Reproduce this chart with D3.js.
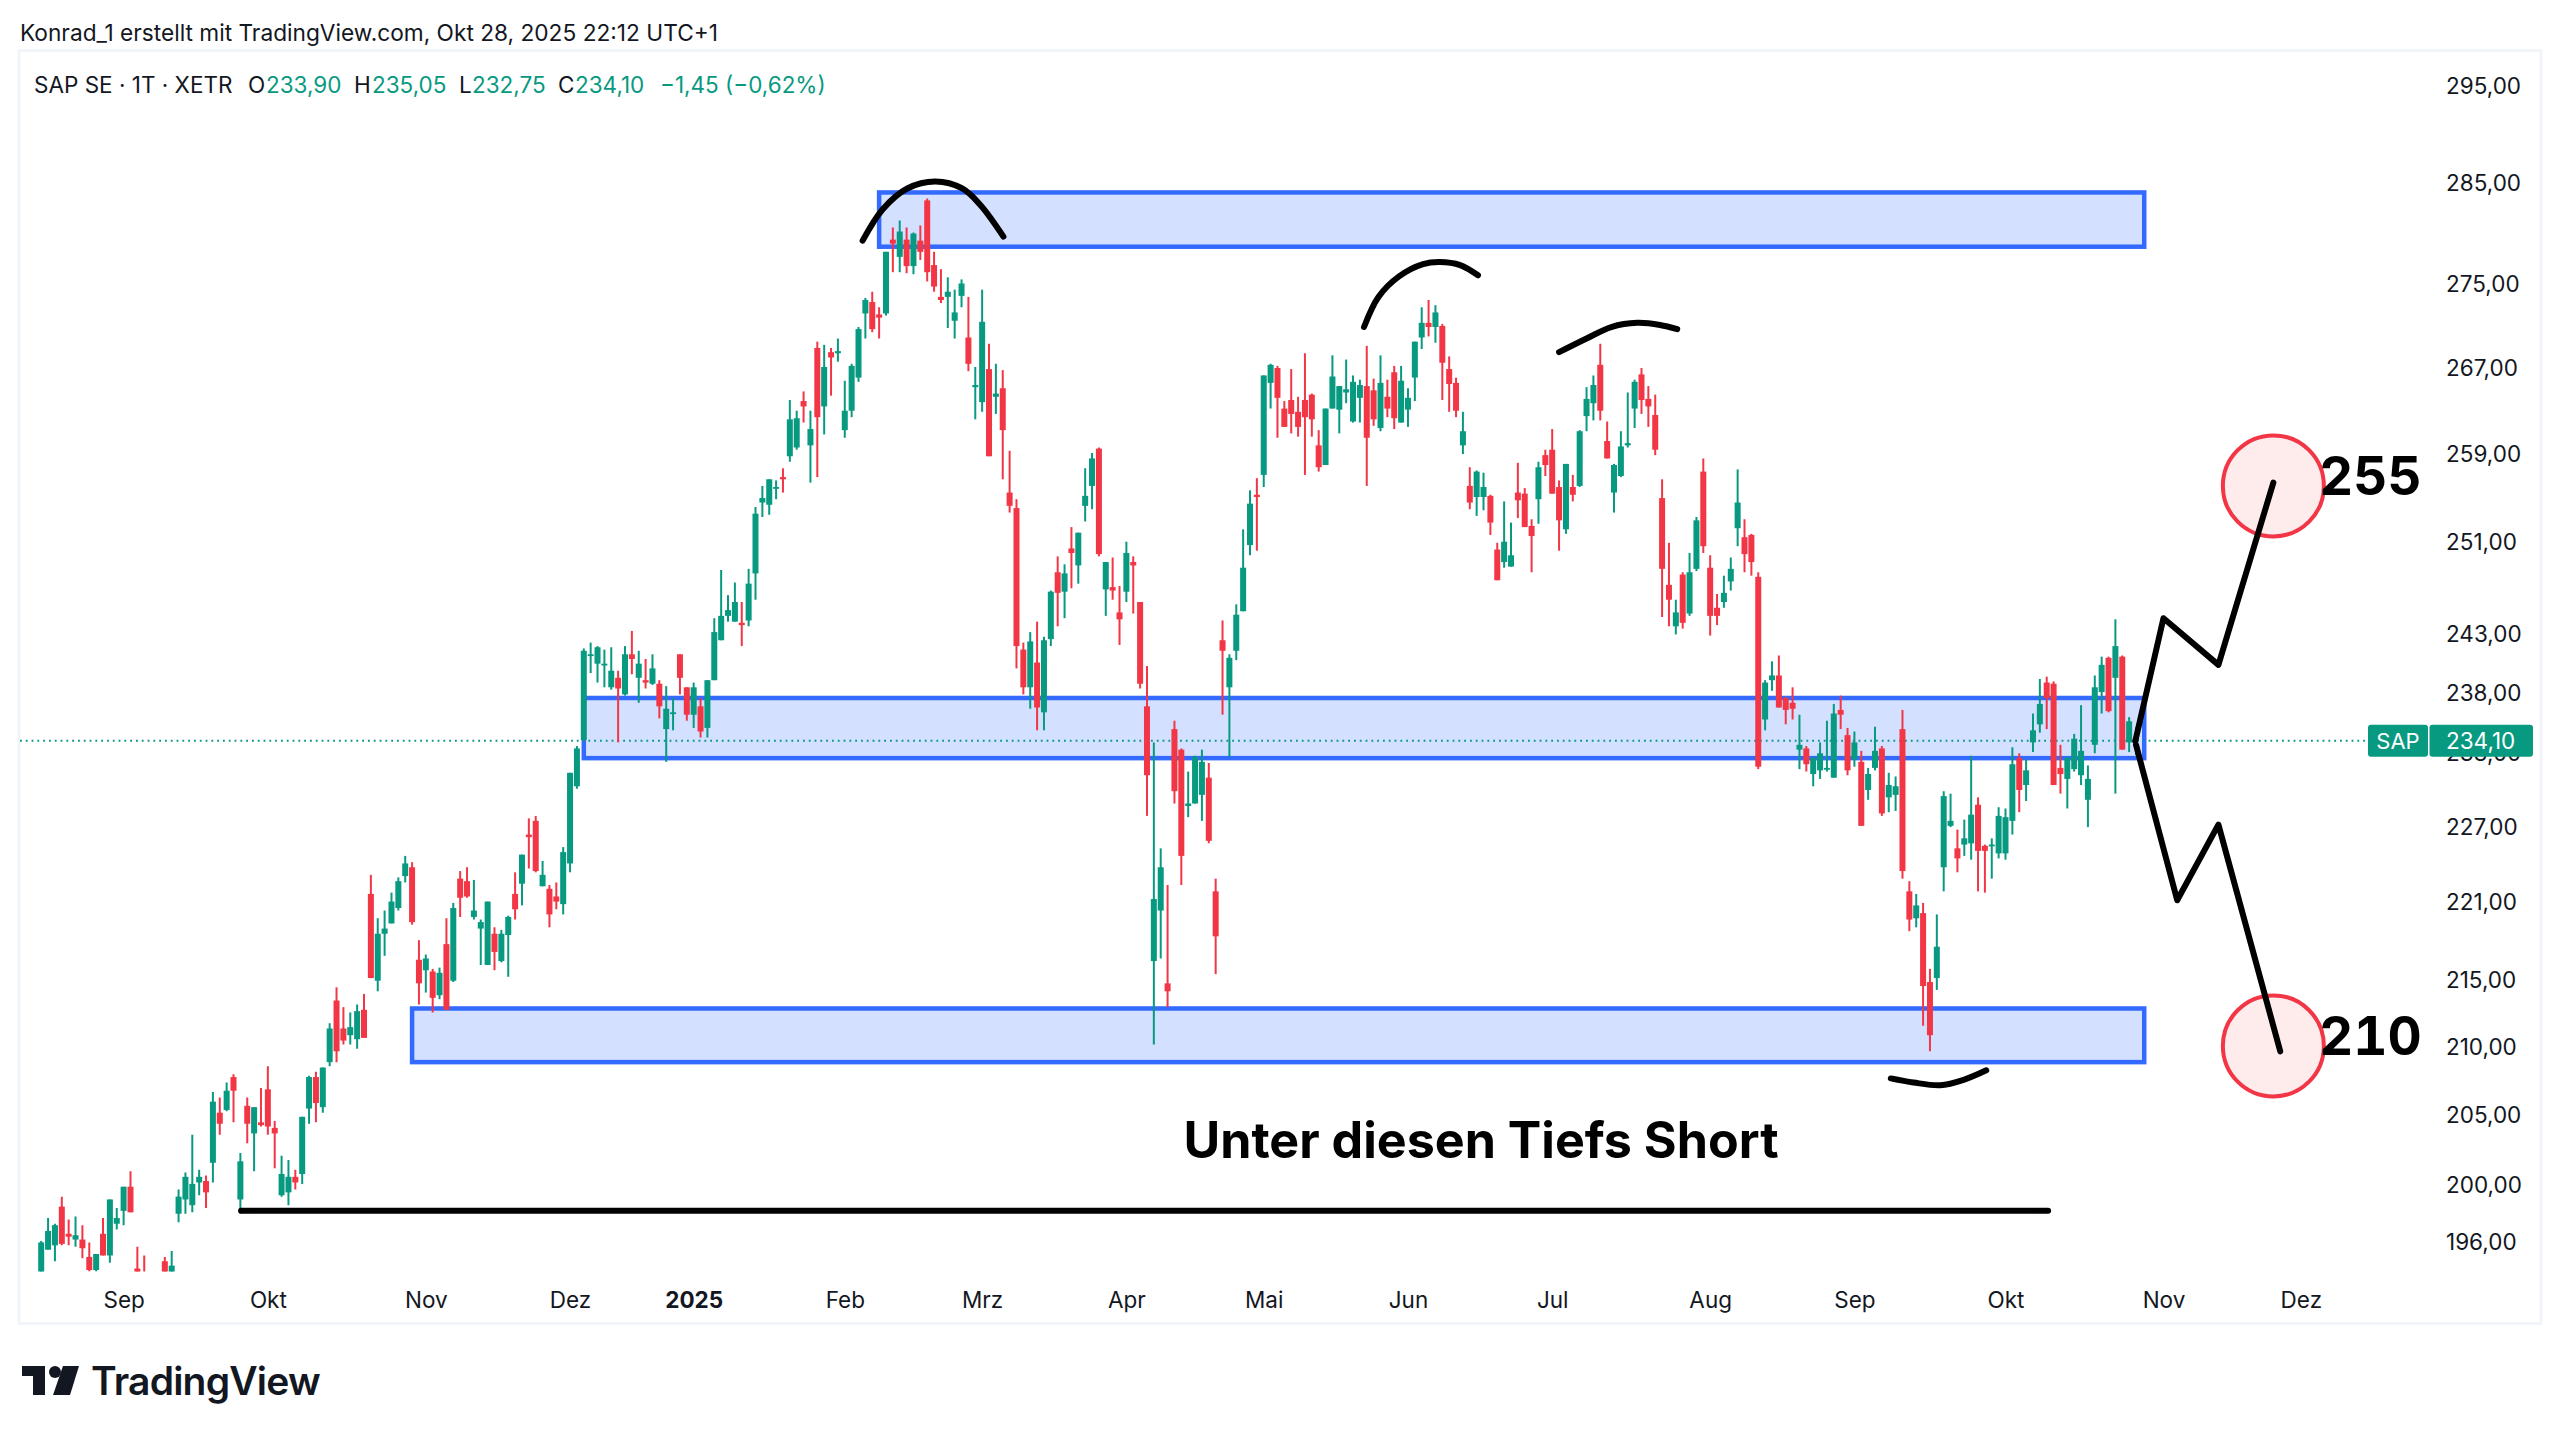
<!DOCTYPE html>
<html lang="de">
<head>
<meta charset="utf-8">
<title>SAP SE</title>
<script src="https://cdnjs.cloudflare.com/ajax/libs/d3/7.9.0/d3.min.js"></script>
<style>
    html, body { margin: 0; background: #fff; }
    svg { display: block; font-family: Inter, "Noto Sans", sans-serif; }
</style>
</head>
<body>
<svg id="chart" width="2560" height="1438"></svg>
<script>
// Tageskerzen (Bar 1 = Ende August 2024).
const opens = [
    193.2,195.4,195.7,198.4,196.5,196.1,196.1,194.9,194.0,196.5,
    195.0,197.2,198.1,199.8,194.1,193.6,192.5,192.0,194.6,193.7,
    197.9,198.9,198.5,200.1,200.2,201.5,205.1,205.3,207.7,198.9,
    205.6,203.6,204.4,206.8,204.0,199.2,199.4,200.5,200.7,205.4,
    207.7,205.5,208.8,213.4,211.3,210.8,210.5,212.7,221.6,214.9,
    218.5,219.3,220.5,223.0,223.7,216.5,215.7,215.6,213.8,217.7,
    214.9,222.8,222.6,219.8,218.9,216.1,218.5,216.4,218.4,221.6,
    222.4,226.3,227.4,222.2,222.0,221.4,220.8,224.0,230.2,234.0,
    241.1,240.4,240.3,238.4,239.2,237.8,241.2,239.2,239.0,238.7,
    238.7,234.9,236.2,241.2,238.4,236.1,236.8,235.0,239.0,242.4,
    244.5,244.0,243.9,244.1,248.2,254.5,254.3,255.8,256.8,258.7,
    259.5,263.8,259.7,268.8,263.3,268.4,268.3,261.1,262.9,266.0,
    272.1,273.2,272.0,272.1,279.3,277.6,279.3,276.7,279.2,283.2,
    276.8,273.7,273.7,271.4,273.8,269.8,265.1,263.7,266.8,264.2,
    265.0,255.4,254.0,241.6,238.4,240.5,236.3,242.5,248.3,246.6,
    250.4,248.9,254.2,256.0,259.4,246.8,247.0,244.8,246.6,249.2,
    245.7,236.8,216.4,220.3,214.7,234.9,233.2,228.6,228.8,229.5,
    230.9,221.8,242.4,238.4,241.5,244.9,250.7,255.2,257.0,265.5,
    266.9,263.1,263.9,262.8,263.9,264.4,259.7,257.9,263.1,263.0,
    264.6,261.9,264.1,265.2,264.8,261.3,264.2,266.5,261.8,263.0,
    266.0,269.8,271.2,270.8,270.9,266.8,265.5,259.7,256.0,255.0,
    255.0,255.1,250.3,249.2,248.8,255.4,255.3,252.4,254.8,258.8,
    259.3,255.9,252.1,255.9,256.0,262.4,263.6,267.2,260.1,255.4,
    256.9,259.7,263.1,266.3,264.0,262.5,254.9,247.2,243.6,248.1,
    244.7,248.6,257.3,248.7,245.2,245.7,247.5,252.2,251.4,251.6,
    247.9,235.7,239.0,239.4,237.5,237.1,233.2,233.3,231.2,231.5,
    231.6,230.9,236.5,234.4,232.4,232.2,229.9,231.7,233.3,229.3,
    229.5,234.9,221.8,219.7,220.1,214.8,215.1,223.7,227.0,225.2,
    225.5,225.6,228.7,225.4,225.4,224.8,224.8,227.4,232.5,230.3,
    233.8,235.3,238.8,238.7,231.7,230.8,231.6,231.1,229.1,233.6,
    238.0,240.9,239.2,241.0,233.8,233.90
];
const highs = [
    196.0,197.6,197.2,199.1,197.5,197.7,197.1,195.9,195.1,197.6,
    198.9,198.3,199.8,200.9,195.6,195.0,193.3,193.0,194.9,195.3,
    199.6,200.8,203.5,201.0,200.6,206.6,206.2,207.3,207.9,202.2,
    206.2,205.5,206.9,208.5,204.5,202.0,201.7,201.0,204.8,207.8,
    208.1,208.4,211.7,214.4,212.9,212.5,213.1,213.9,223.1,219.7,
    220.3,221.7,222.9,224.6,224.1,218.0,216.9,215.8,215.9,219.7,
    220.9,223.4,223.7,222.7,219.6,221.0,219.0,218.8,219.9,223.3,
    224.7,227.6,227.8,224.2,222.3,222.5,225.3,231.3,233.5,241.7,
    242.2,241.9,241.6,241.8,239.8,241.9,243.2,241.5,240.8,241.2,
    239.0,238.5,237.5,241.2,238.4,238.8,237.5,239.0,244.3,248.5,
    246.3,247.4,245.7,248.6,254.1,256.0,256.6,256.5,257.6,263.9,
    262.9,264.7,262.9,269.4,269.1,268.8,269.7,265.7,267.3,270.8,
    273.6,274.2,272.7,278.1,280.5,281.2,280.5,280.0,280.7,283.4,
    278.1,276.4,275.6,274.4,275.4,273.7,267.0,274.4,269.2,267.3,
    266.7,259.2,254.8,242.2,243.1,244.0,242.7,246.7,249.7,249.0,
    252.3,251.8,257.6,259.0,259.5,249.2,249.6,247.1,251.0,249.7,
    245.7,240.2,233.8,225.2,222.3,235.6,233.3,231.4,232.7,233.2,
    232.1,222.8,244.1,241.2,245.5,252.1,255.6,256.7,266.2,267.3,
    267.1,263.8,266.8,264.2,268.3,264.5,261.1,263.1,268.1,265.2,
    267.7,266.2,265.8,269.0,265.9,268.1,265.8,267.1,267.1,265.0,
    269.4,272.7,273.4,272.9,271.1,268.0,266.0,262.8,257.7,257.4,
    257.2,255.2,250.9,254.6,252.7,258.1,255.8,253.0,258.2,259.3,
    261.2,256.5,258.0,257.0,261.1,265.1,266.2,269.2,261.9,258.0,
    261.0,264.6,265.8,266.9,265.2,264.4,256.6,250.9,245.9,248.3,
    250.0,253.2,258.5,249.8,246.4,248.0,249.6,257.5,253.0,251.7,
    248.3,239.0,240.6,241.1,237.6,238.4,236.1,233.5,232.6,233.8,
    235.6,237.0,237.7,235.0,234.7,233.1,231.7,235.1,233.5,231.3,
    231.0,236.5,222.6,221.6,220.9,215.8,220.0,229.8,229.6,226.7,
    227.5,232.7,229.3,225.5,226.0,228.5,228.4,233.4,232.9,232.4,
    236.2,239.1,239.3,238.9,233.6,232.6,234.5,236.9,231.9,239.4,
    241.0,241.0,244.2,241.1,235.9,235.05
];
const lows = [
    192.9,195.4,194.6,195.7,195.7,195.6,194.8,193.9,193.9,195.0,
    194.5,196.8,197.1,198.0,193.0,192.8,191.5,191.0,193.0,193.5,
    197.3,197.9,198.0,199.2,198.3,200.1,203.5,205.2,204.4,197.9,
    202.9,200.9,204.1,203.5,201.1,199.1,198.5,199.6,200.0,204.3,
    204.4,205.1,208.5,208.8,210.1,210.1,209.8,210.6,215.1,214.1,
    216.8,219.3,220.3,222.5,219.2,213.1,214.0,212.5,213.5,212.7,
    214.8,219.8,221.3,219.6,216.1,216.1,215.7,216.3,215.2,219.6,
    220.7,223.6,223.3,222.2,219.0,220.4,220.0,223.3,230.0,234.0,
    239.6,238.8,238.4,238.2,233.8,237.7,239.5,237.1,238.3,238.6,
    235.8,232.2,234.8,237.8,235.6,235.0,234.2,234.2,239.0,242.4,
    244.0,244.0,241.9,243.6,245.9,253.2,253.4,254.8,255.4,258.2,
    259.3,261.8,256.3,256.8,260.7,264.3,267.5,260.4,262.3,265.6,
    269.7,270.3,269.7,271.9,276.1,276.1,276.0,275.9,277.3,275.2,
    274.2,273.1,270.7,269.7,272.7,266.6,262.1,262.8,258.7,262.6,
    256.6,253.6,240.0,237.8,236.6,234.8,234.8,241.9,243.6,244.3,
    246.9,247.3,252.8,253.9,249.7,244.5,245.9,242.0,245.7,244.7,
    238.3,227.8,210.1,216.6,212.9,228.8,222.3,227.7,228.8,227.4,
    225.6,215.4,236.1,232.6,240.7,244.9,249.8,250.2,255.9,263.1,
    260.4,261.4,260.8,260.5,257.0,260.5,257.3,257.9,263.1,260.8,
    263.6,261.8,261.8,256.0,261.5,261.0,262.3,261.2,261.8,261.4,
    263.8,268.7,269.9,269.3,263.9,262.8,262.3,258.9,253.9,253.3,
    253.8,251.6,247.6,248.7,248.8,253.1,252.3,248.3,252.6,256.9,
    255.3,250.2,251.7,254.6,255.9,261.0,262.0,262.0,258.5,253.6,
    256.8,259.5,261.3,262.6,261.4,258.8,244.4,243.6,242.9,243.4,
    244.5,248.4,250.0,242.8,243.7,245.2,246.7,250.6,248.3,248.0,
    231.6,234.8,238.1,236.7,235.3,235.7,231.6,231.4,230.2,230.8,
    231.4,230.9,234.9,231.1,231.8,227.0,229.1,231.5,227.8,228.1,
    228.2,222.8,218.7,219.0,211.5,209.6,214.2,221.8,226.9,223.3,
    224.6,224.3,221.8,221.7,222.8,224.4,224.3,226.3,228.1,229.0,
    233.0,234.6,234.9,230.3,229.6,228.4,231.4,230.3,226.9,232.9,
    236.2,236.3,229.6,233.2,233.0,232.75
];
const closes = [
    195.9,196.7,197.1,195.8,196.3,196.4,195.5,194.0,195.1,195.0,
    198.9,197.6,199.8,198.0,193.4,193.0,192.0,192.5,193.4,194.3,
    199.1,200.5,200.0,200.5,199.4,205.9,204.3,206.7,206.7,201.6,
    204.3,205.5,204.2,204.1,203.6,200.7,200.5,200.1,204.8,207.7,
    205.8,208.4,211.3,209.6,210.4,211.4,212.6,210.6,215.1,218.5,
    218.9,221.0,222.6,224.0,219.4,214.7,216.6,213.6,215.5,212.7,
    220.5,221.3,221.4,220.3,219.4,221.0,217.1,218.5,219.8,220.4,
    224.7,226.1,223.4,223.1,220.0,221.0,224.9,231.3,233.3,241.5,
    241.2,241.8,240.4,239.8,238.3,241.2,240.8,240.4,238.8,240.0,
    236.8,236.6,236.3,239.2,236.1,238.4,234.7,239.0,243.1,244.5,
    245.0,245.7,243.7,247.3,253.5,254.9,256.6,255.9,256.6,262.1,
    262.2,263.3,261.2,262.3,267.0,267.9,268.5,262.9,267.1,270.6,
    273.4,270.6,271.7,278.1,278.9,280.1,276.7,279.9,278.1,276.1,
    274.7,273.4,274.2,272.2,275.0,267.3,265.3,271.3,258.7,264.5,
    261.1,254.2,241.9,238.4,242.3,236.7,242.4,246.6,246.5,248.2,
    250.0,251.8,255.1,258.5,249.9,249.2,246.7,244.2,250.0,248.9,
    238.7,231.1,221.2,223.7,214.1,229.8,224.6,228.8,232.6,232.2,
    225.8,218.3,241.5,240.9,244.6,248.7,254.4,255.0,266.2,267.2,
    264.1,261.4,262.6,261.4,262.3,262.1,257.7,263.1,266.1,265.2,
    264.9,265.6,265.3,260.4,262.1,265.5,263.1,262.2,265.7,264.1,
    269.4,271.2,270.8,272.2,267.4,265.4,262.9,261.0,254.5,257.3,
    255.9,252.7,247.6,251.0,249.8,254.7,252.3,251.5,257.7,257.9,
    255.3,252.9,258.0,255.2,261.0,264.0,265.3,262.9,258.5,257.9,
    259.6,259.9,265.6,263.9,263.3,259.3,248.6,245.9,244.8,243.9,
    248.3,252.9,250.6,244.5,244.5,246.5,248.6,254.5,249.9,249.2,
    231.8,238.8,239.4,236.7,236.5,236.6,233.6,232.0,232.5,232.9,
    231.7,236.2,236.1,231.5,233.8,227.0,231.2,233.1,228.0,230.3,
    230.2,223.4,219.6,220.7,214.5,210.8,217.5,229.4,227.4,224.4,
    226.0,227.9,225.0,225.0,225.5,227.8,227.7,232.0,229.9,231.5,
    234.8,237.0,237.5,230.3,231.2,232.5,234.1,233.1,230.8,238.4,
    240.3,236.4,241.9,233.2,235.55,234.10
];

// Preisachse (logarithmisch) und Monatsachse; die Monate laufen in der Bar-Nummerierung weiter.
const priceTicks = [295, 285, 275, 267, 259, 251, 243, 238, 233, 227, 221, 215, 210, 205, 200, 196];
const monthLabels = ["Sep", "Okt", "Nov", "Dez", "2025", "Feb", "Mrz", "Apr", "Mai", "Jun", "Jul", "Aug", "Sep", "Okt", "Nov", "Dez"];
const monthBars = [12, 33, 56, 77, 95, 117, 137, 158, 178, 199, 220, 243, 264, 286, 309, 329];

// Gezeichnete Zonen: von Bar, bis Bar, Preis oben, Preis unten.
const zoneStarts = [122, 79, 54];
const zoneEnd = 306.2;
const zoneTops = [284.0, 237.5, 212.8];
const zoneBottoms = [278.6, 232.5, 208.8];

// Handgezeichnete Bögen und Szenarien als [Bar, Preis].
const arcTop = [[119.6, 279.2], [122.5, 282.3], [126.1, 284.4], [130.2, 285.1], [134.1, 284.4], [136.8, 282.7], [140.1, 279.6]];
const arcJune = [[192.6, 270.8], [194.7, 273.7], [197.7, 275.7], [201.2, 276.9], [203.6, 277.1], [206.6, 276.8], [209.2, 275.8]];
const arcJuly = [[221.0, 268.4], [225.0, 269.7], [228.6, 270.8], [232.4, 271.2], [235.7, 271.0], [238.2, 270.6]];
const arcLow = [[269.3, 207.6], [272.6, 207.3], [276.5, 207.1], [279.9, 207.5], [283.2, 208.2]];
const supportLine = [[29.1, 198.1], [292.2, 198.1]];
const pathUp = [[304.9, 233.9], [309, 244.3], [317, 240.3], [325, 256.3]];
const pathDown = [[305, 233.6], [311, 221.1], [317, 227.1], [326, 209.6]];

// Kursziele: Bar, Preis, Beschriftung.
const targetBars = [325, 325];
const targetPrices = [256, 210];
const targetLabels = ["255", "210"];

const lastPrice = "234,10";

const GREEN = "#089981";
const RED = "#f23645";
const BLUE = "#2962ff";
const TEXT = "#131722";

const svg = d3.select("#chart");

const x = d3.scaleLinear().domain([0, opens.length - 1]).range([41.2, 2136]);
const y = d3.scaleLog().domain([196, 295]).range([1241, 85]);

// Rahmen des Charts.
svg.append("rect")
    .attr("x", 19).attr("y", 50.5)
    .attr("width", 2522).attr("height", 1273)
    .attr("fill", "none")
    .attr("stroke", "#f0f3fa")
    .attr("stroke-width", 2.5);

svg.append("clipPath").attr("id", "pane")
    .append("rect")
    .attr("x", 20).attr("y", 52)
    .attr("width", 2420).attr("height", 1219.5);

const pane = svg.append("g");

// Zonen liegen unter den Kerzen.
pane.selectAll(".zone")
    .data(zoneStarts)
    .enter()
    .append("rect")
    .attr("class", "zone")
    .attr("x", d => x(d))
    .attr("y", (d, i) => y(zoneTops[i]))
    .attr("width", d => x(zoneEnd) - x(d))
    .attr("height", (d, i) => y(zoneBottoms[i]) - y(zoneTops[i]))
    .attr("fill", BLUE)
    .attr("fill-opacity", 0.2)
    .attr("stroke", BLUE)
    .attr("stroke-opacity", 0.95)
    .attr("stroke-width", 4.5);

// Gepunktete Linie des letzten Kurses; sitzt 2px unter der Skala der Achsenbeschriftung.
const lastY = y(closes[closes.length - 1]) + 2;
pane.append("line")
    .attr("x1", 20).attr("x2", 2368)
    .attr("y1", lastY).attr("y2", lastY)
    .attr("stroke", GREEN)
    .attr("stroke-width", 1.8)
    .attr("stroke-dasharray", "1.8 4");

// Kerzen.
const candles = pane.append("g").attr("clip-path", "url(#pane)");
const isUp = i => closes[i] >= opens[i];

candles.selectAll(".wick")
    .data(d3.range(opens.length))
    .enter()
    .append("line")
    .attr("class", "wick")
    .attr("x1", i => x(i)).attr("x2", i => x(i))
    .attr("y1", i => y(highs[i]))
    .attr("y2", i => y(lows[i]))
    .attr("stroke", i => isUp(i) ? GREEN : RED)
    .attr("stroke-width", 2);

candles.selectAll(".body")
    .data(d3.range(opens.length))
    .enter()
    .append("rect")
    .attr("class", "body")
    .attr("x", i => x(i) - 3)
    .attr("width", 6)
    .attr("y", i => y(Math.max(opens[i], closes[i])))
    .attr("height", i => Math.max(1.8, y(Math.min(opens[i], closes[i])) - y(Math.max(opens[i], closes[i]))))
    .attr("fill", i => isUp(i) ? GREEN : RED);

// Kreise der Kursziele.
pane.selectAll(".target")
    .data(targetBars)
    .enter()
    .append("circle")
    .attr("class", "target")
    .attr("cx", d => x(d))
    .attr("cy", (d, i) => y(targetPrices[i]))
    .attr("r", 50.5)
    .attr("fill", RED)
    .attr("fill-opacity", 0.1)
    .attr("stroke", RED)
    .attr("stroke-width", 4);

// Handzeichnungen.
const smooth = d3.line().x(d => x(d[0])).y(d => y(d[1])).curve(d3.curveCatmullRom);
const straight = d3.line().x(d => x(d[0])).y(d => y(d[1]));

pane.selectAll(".arc")
    .data([arcTop, arcJune, arcJuly, arcLow])
    .enter()
    .append("path")
    .attr("class", "arc")
    .attr("d", smooth)
    .attr("fill", "none")
    .attr("stroke", "#000")
    .attr("stroke-width", 6)
    .attr("stroke-linecap", "round");

pane.selectAll(".path")
    .data([supportLine, pathUp, pathDown])
    .enter()
    .append("path")
    .attr("class", "path")
    .attr("d", straight)
    .attr("fill", "none")
    .attr("stroke", "#000")
    .attr("stroke-width", 6)
    .attr("stroke-linecap", "round")
    .attr("stroke-linejoin", "round");

pane.selectAll(".targetLabel")
    .data(targetLabels)
    .enter()
    .append("text")
    .attr("class", "targetLabel")
    .attr("x", 2319)
    .attr("y", (d, i) => y(targetPrices[i]) - 10)
    .attr("dy", "0.36em")
    .attr("fill", "#000")
    .style("font-size", "53px")
    .style("font-weight", 700)
    .style("font-variant-numeric", "tabular-nums")
    .text(d => d);

pane.append("text")
    .attr("x", 1481)
    .attr("y", 1140)
    .attr("dy", "0.36em")
    .attr("text-anchor", "middle")
    .attr("fill", "#000")
    .style("font-size", "50.2px")
    .style("font-weight", 700)
    .text("Unter diesen Tiefs Short");

// Preisachse.
const priceAxis = d3.axisRight(y)
    .tickValues(priceTicks)
    .tickSize(0)
    .tickPadding(0)
    .tickFormat(d => d3.format(".2f")(d).replace(".", ","));

svg.append("g")
    .attr("transform", "translate(2446,1)")
    .call(priceAxis)
    .call(g => g.select(".domain").remove())
    .call(g => g.selectAll("text")
        .attr("fill", TEXT)
        .style("font-family", "Inter, sans-serif")
        .style("font-size", "22.5px"));

// Monatsachse.
const monthAxis = d3.axisBottom(x)
    .tickValues(monthBars)
    .tickSize(0)
    .tickPadding(0)
    .tickFormat((d, i) => monthLabels[i]);

svg.append("g")
    .attr("transform", "translate(0,1291.5)")
    .call(monthAxis)
    .call(g => g.select(".domain").remove())
    .call(g => g.selectAll("text")
        .attr("dy", "0.72em")
        .attr("fill", TEXT)
        .style("font-family", "Inter, sans-serif")
        .style("font-size", "22.5px")
        .style("font-weight", (d, i) => monthLabels[i] === "2025" ? 700 : 400));

// Schild mit dem letzten Kurs.
const tag = svg.append("g");
tag.append("rect")
    .attr("x", 2368).attr("y", lastY - 16)
    .attr("width", 60).attr("height", 32).attr("rx", 3)
    .attr("fill", GREEN);
tag.append("rect")
    .attr("x", 2429.5).attr("y", lastY - 16)
    .attr("width", 103.5).attr("height", 32).attr("rx", 3)
    .attr("fill", GREEN);
tag.append("text")
    .attr("x", 2398).attr("y", lastY).attr("dy", "0.36em")
    .attr("text-anchor", "middle")
    .attr("fill", "#fff")
    .style("font-size", "22px")
    .text("SAP");
tag.append("text")
    .attr("x", 2446).attr("y", lastY).attr("dy", "0.36em")
    .attr("fill", "#fff")
    .style("font-size", "22.5px")
    .text(lastPrice);

// Kopfzeile.
svg.append("text")
    .attr("x", 20).attr("y", 33).attr("dy", "0.36em")
    .attr("fill", TEXT)
    .style("font-size", "22.7px")
    .text("Konrad_1 erstellt mit TradingView.com, Okt 28, 2025 22:12 UTC+1");

// Legende: Textstücke mit eigener Farbe.
const legendTexts = ["SAP SE · 1T · XETR", "O", "233,90", "H", "235,05", "L", "232,75", "C", "234,10", "−1,45 (−0,62%)"];
const legendX = [34, 248, 266, 354, 372, 459, 472, 558, 575, 660];
const legendGreen = [false, false, true, false, true, false, true, false, true, true];

svg.selectAll(".legend")
    .data(legendTexts)
    .enter()
    .append("text")
    .attr("class", "legend")
    .attr("x", (d, i) => legendX[i])
    .attr("y", 85)
    .attr("dy", "0.36em")
    .attr("fill", (d, i) => legendGreen[i] ? GREEN : TEXT)
    .style("font-size", "22.5px")
    .text(d => d);

// Logo unten links.
const logo = svg.append("g").attr("fill", "#131722");
logo.append("path").attr("d", "M22 1366H45V1395H33V1376H22Z");
logo.append("circle").attr("cx", 55).attr("cy", 1372).attr("r", 6);
logo.append("path").attr("d", "M63 1366H79L70 1395H53Z");
logo.append("text")
    .attr("x", 91).attr("y", 1381).attr("dy", "0.36em")
    .style("font-size", "39px")
    .style("font-weight", 600)
    .style("letter-spacing", "-0.8px")
    .text("TradingView");
</script>
</body>
</html>
